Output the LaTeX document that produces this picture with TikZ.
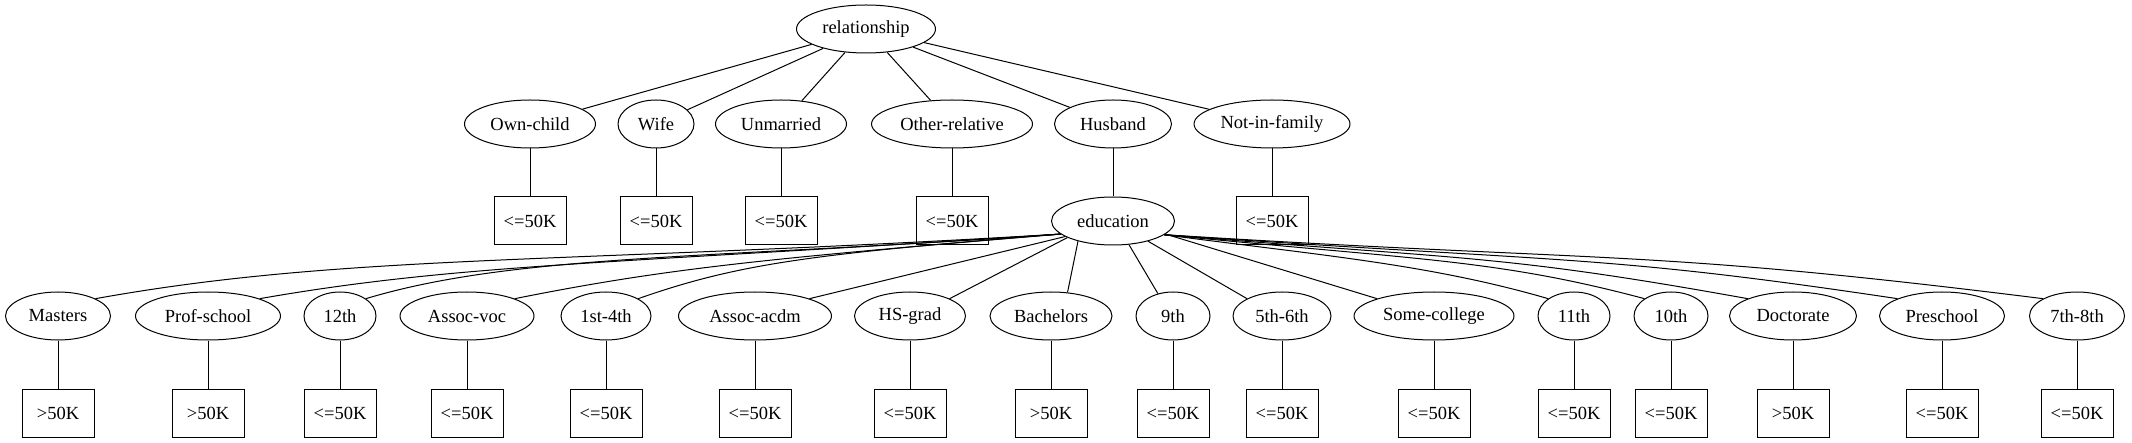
\documentclass[tikz,border=0pt]{standalone}
\usepackage{fontspec}
\setmainfont{Liberation Serif}
\usetikzlibrary{shapes.geometric}
\begin{document}
\begin{tikzpicture}[x=1pt, y=-1pt, line width=1pt,
		font=\fontsize{18.5}{22}\selectfont,
		ell/.style={draw, ellipse, inner sep=0pt, minimum height=48pt},
		leaf/.style={draw, rectangle, inner sep=0pt, minimum width=72pt, minimum height=48pt, text width=56pt, align=center}]
		\useasboundingbox (0,0) rectangle (2132,443);
		\node[ell, minimum width=139pt] (rel) at (866,29) {relationship};
		\node[ell, minimum width=131pt] (own) at (530,124) {Own-child};
		\node[ell, minimum width=76pt] (wife) at (656,124) {Wife};
		\node[ell, minimum width=131pt] (unm) at (781,124) {Unmarried};
		\node[ell, minimum width=161pt] (oth) at (952,124) {Other-relative};
		\node[ell, minimum width=117pt] (hus) at (1113,124) {Husband};
		\node[ell, minimum width=156pt] (nif) at (1272,124) {Not-in-family};
		\node[leaf] (own50) at (530,221) {<=50K};
		\node[leaf] (wife50) at (656,221) {<=50K};
		\node[leaf] (unm50) at (781,221) {<=50K};
		\node[leaf] (oth50) at (952,221) {<=50K};
		\node[ell, minimum width=123pt] (edu) at (1113,221) {education};
		\node[leaf] (nif50) at (1272,221) {<=50K};
		\draw (rel) -- (own);
		\draw (rel) -- (wife);
		\draw (rel) -- (unm);
		\draw (rel) -- (oth);
		\draw (rel) -- (hus);
		\draw (rel) -- (nif);
		\draw (own) -- (own50);
		\draw (wife) -- (wife50);
		\draw (unm) -- (unm50);
		\draw (oth) -- (oth50);
		\draw (hus) -- (edu);
		\draw (nif) -- (nif50);
		\node[ell, minimum width=105pt] (mas) at (58,316) {Masters};
		\node[ell, minimum width=145pt] (prof) at (208,316) {Prof-school};
		\node[ell, minimum width=72pt] (g12) at (340,316) {12th};
		\node[ell, minimum width=134pt] (voc) at (467,316) {Assoc-voc};
		\node[ell, minimum width=90pt] (g1) at (606,316) {1st-4th};
		\node[ell, minimum width=153pt] (acdm) at (755,316) {Assoc-acdm};
		\node[ell, minimum width=111pt] (hs) at (910,316) {HS-grad};
		\node[ell, minimum width=122pt] (bach) at (1051,316) {Bachelors};
		\node[ell, minimum width=74pt] (g9) at (1173,316) {9th};
		\node[ell, minimum width=98pt] (g5) at (1282,316) {5th-6th};
		\node[ell, minimum width=160pt] (some) at (1434,316) {Some-college};
		\node[ell, minimum width=72pt] (g11) at (1574,316) {11th};
		\node[ell, minimum width=74pt] (g10) at (1671,316) {10th};
		\node[ell, minimum width=127pt] (doc) at (1793,316) {Doctorate};
		\node[ell, minimum width=125pt] (pre) at (1942,316) {Preschool};
		\node[ell, minimum width=95pt] (g7) at (2077,316) {7th-8th};
		\node[leaf] (mas50) at (58,413) {>50K};
		\node[leaf] (prof50) at (208,413) {>50K};
		\node[leaf] (g1250) at (340,413) {<=50K};
		\node[leaf] (voc50) at (467,413) {<=50K};
		\node[leaf] (g150) at (606,413) {<=50K};
		\node[leaf] (acdm50) at (755,413) {<=50K};
		\node[leaf] (hs50) at (910,413) {<=50K};
		\node[leaf] (bach50) at (1051,413) {>50K};
		\node[leaf] (g950) at (1173,413) {<=50K};
		\node[leaf] (g550) at (1282,413) {<=50K};
		\node[leaf] (some50) at (1434,413) {<=50K};
		\node[leaf] (g1150) at (1574,413) {<=50K};
		\node[leaf] (g1050) at (1671,413) {<=50K};
		\node[leaf] (doc50) at (1793,413) {>50K};
		\node[leaf] (pre50) at (1942,413) {<=50K};
		\node[leaf] (g750) at (2077,413) {<=50K};
		\draw (edu.194) .. controls +(-500,30) and +(250,-45) .. (mas.north east);
		\draw (edu.194) .. controls +(-450,30) and +(200,-35) .. (prof.north east);
		\draw (edu.194) .. controls +(-350,25) and +(150,-45) .. (g12.north east);
		\draw (edu.194) .. controls +(-300,25) and +(150,-30) .. (voc.north east);
		\draw (edu.194) .. controls +(-250,20) and +(100,-35) .. (g1.north east);
		\draw (edu.198) -- (acdm.north east);
		\draw (edu.200) -- (hs.north east);
		\draw (edu.210) -- (bach.55);
		\draw (edu.304) -- (g9.124);
		\draw (edu.330) -- (g5.north west);
		\draw (edu.346) -- (some.north west);
		\draw (edu.345) .. controls +(150,20) and +(-120,-35) .. (g11.north west);
		\draw (edu.345) .. controls +(250,25) and +(-150,-40) .. (g10.north west);
		\draw (edu.345) .. controls +(300,25) and +(-250,-45) .. (doc.north west);
		\draw (edu.345) .. controls +(400,28) and +(-300,-45) .. (pre.north west);
		\draw (edu.345) .. controls +(450,28) and +(-400,-50) .. (g7.north west);
		\draw (mas) -- (mas50);
		\draw (prof) -- (prof50);
		\draw (g12) -- (g1250);
		\draw (voc) -- (voc50);
		\draw (g1) -- (g150);
		\draw (acdm) -- (acdm50);
		\draw (hs) -- (hs50);
		\draw (bach) -- (bach50);
		\draw (g9) -- (g950);
		\draw (g5) -- (g550);
		\draw (some) -- (some50);
		\draw (g11) -- (g1150);
		\draw (g10) -- (g1050);
		\draw (doc) -- (doc50);
		\draw (pre) -- (pre50);
		\draw (g7) -- (g750);
	\end{tikzpicture}
\end{document}
